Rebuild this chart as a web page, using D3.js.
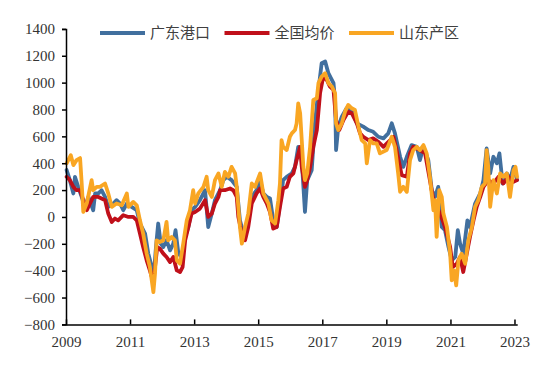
<!DOCTYPE html>
<html>
<head>
<meta charset="utf-8">
<script src="https://cdn.jsdelivr.net/npm/d3@7"></script>
<style>
  html, body { margin: 0; padding: 0; background: #fff; }
  svg { display: block; }
</style>
</head>
<body>
<svg id="chart" width="550" height="366"></svg>
<script>
// ---- Data (decimal years, values) ----
const seriesNames = ["广东港口", "全国均价", "山东产区"];
const seriesColors = ["#416f9e", "#c0101a", "#f9a623"];

const gdDates = [2009.02,2009.12,2009.23,2009.28,2009.38,2009.49,2009.59,2009.70,2009.85,2009.91,2010.01,2010.11,2010.22,2010.32,2010.48,2010.58,2010.69,2010.79,2010.90,2011.05,2011.21,2011.31,2011.47,2011.57,2011.68,2011.73,2011.81,2011.88,2011.96,2012.04,2012.14,2012.25,2012.35,2012.42,2012.51,2012.61,2012.72,2012.82,2012.92,2013.03,2013.18,2013.34,2013.44,2013.55,2013.65,2013.81,2013.91,2014.02,2014.17,2014.33,2014.43,2014.54,2014.64,2014.80,2014.95,2015.06,2015.16,2015.27,2015.37,2015.47,2015.58,2015.68,2015.78,2015.89,2016.05,2016.15,2016.25,2016.36,2016.46,2016.53,2016.67,2016.77,2016.88,2016.98,2017.09,2017.19,2017.35,2017.40,2017.43,2017.50,2017.61,2017.76,2017.92,2018.08,2018.28,2018.44,2018.59,2018.75,2018.91,2019.06,2019.17,2019.27,2019.43,2019.53,2019.64,2019.79,2019.95,2020.05,2020.16,2020.31,2020.42,2020.52,2020.62,2020.73,2020.83,2020.94,2021.04,2021.15,2021.23,2021.30,2021.40,2021.53,2021.61,2021.77,2021.93,2022.03,2022.13,2022.24,2022.34,2022.45,2022.53,2022.63,2022.76,2022.86,2022.97,2023.03,2023.08];
const gdValues = [349,274,175,299,224,149,75,149,50,175,175,199,149,75,100,125,100,50,100,75,50,-49,-124,-273,-373,-472,-224,-49,-199,-224,-174,-249,-199,-99,-273,-298,-149,-75,50,75,125,199,-75,25,125,199,274,299,274,224,-25,-124,-75,149,199,274,175,149,137,-25,-75,100,274,299,324,373,522,423,37,274,348,697,946,1145,1157,1070,996,871,498,672,746,809,796,697,672,647,634,597,585,622,697,622,448,373,448,535,522,423,522,423,199,149,224,-75,-99,-224,-323,-298,-99,-199,-273,-25,-75,100,175,274,510,324,448,399,473,249,324,274,373,324,274];

const qgDates = [2009.02,2009.12,2009.23,2009.33,2009.44,2009.54,2009.65,2009.75,2009.85,2010.01,2010.11,2010.22,2010.32,2010.43,2010.53,2010.63,2010.79,2010.95,2011.10,2011.21,2011.31,2011.41,2011.52,2011.62,2011.71,2011.78,2011.85,2011.93,2012.04,2012.14,2012.25,2012.35,2012.46,2012.56,2012.64,2012.72,2012.82,2012.92,2013.03,2013.18,2013.34,2013.44,2013.55,2013.65,2013.76,2013.81,2013.96,2014.12,2014.22,2014.33,2014.38,2014.49,2014.59,2014.69,2014.80,2014.95,2015.06,2015.16,2015.27,2015.37,2015.47,2015.58,2015.68,2015.78,2015.89,2015.99,2016.10,2016.20,2016.31,2016.36,2016.46,2016.53,2016.62,2016.72,2016.83,2016.93,2017.03,2017.14,2017.24,2017.35,2017.43,2017.53,2017.66,2017.81,2017.92,2018.08,2018.18,2018.28,2018.44,2018.59,2018.75,2018.91,2019.12,2019.22,2019.32,2019.48,2019.64,2019.74,2019.84,2020.05,2020.21,2020.36,2020.47,2020.57,2020.68,2020.83,2020.99,2021.07,2021.20,2021.30,2021.40,2021.51,2021.61,2021.72,2021.82,2021.93,2022.03,2022.18,2022.34,2022.50,2022.65,2022.81,2022.97,2023.08];
const qgValues = [299,274,224,199,199,125,50,100,149,149,137,125,25,-37,-12,-25,13,0,0,-25,-124,-224,-323,-398,-472,-373,-224,-236,-273,-298,-336,-298,-398,-410,-373,-174,-75,25,37,62,125,0,25,100,149,199,199,212,199,149,0,-124,-174,-75,100,175,212,149,100,37,-87,-75,75,212,224,299,324,423,522,373,224,274,373,522,647,921,1045,1020,970,946,722,647,722,784,772,697,622,597,572,585,560,522,572,597,498,311,299,473,522,498,473,274,125,75,25,-75,-224,-373,-348,-298,-410,-273,-149,-25,75,149,224,274,249,299,249,299,261,274];

const sdDates = [2009.02,2009.15,2009.23,2009.33,2009.44,2009.49,2009.54,2009.65,2009.80,2009.85,2009.96,2010.06,2010.22,2010.32,2010.43,2010.58,2010.74,2010.90,2010.95,2011.10,2011.21,2011.31,2011.41,2011.52,2011.62,2011.73,2011.78,2011.83,2011.93,2012.04,2012.14,2012.19,2012.30,2012.40,2012.46,2012.56,2012.66,2012.77,2012.87,2012.97,2013.03,2013.13,2013.29,2013.39,2013.44,2013.55,2013.65,2013.76,2013.86,2013.96,2014.07,2014.17,2014.28,2014.33,2014.43,2014.49,2014.59,2014.69,2014.80,2014.90,2015.06,2015.16,2015.32,2015.42,2015.53,2015.63,2015.68,2015.73,2015.78,2015.89,2015.99,2016.05,2016.15,2016.20,2016.25,2016.31,2016.36,2016.41,2016.46,2016.53,2016.62,2016.72,2016.83,2016.88,2016.98,2017.09,2017.19,2017.30,2017.40,2017.43,2017.50,2017.61,2017.71,2017.81,2017.92,2018.02,2018.13,2018.23,2018.34,2018.39,2018.49,2018.59,2018.70,2018.80,2019.01,2019.17,2019.27,2019.37,2019.43,2019.53,2019.64,2019.74,2019.84,2019.95,2020.05,2020.16,2020.26,2020.36,2020.47,2020.52,2020.57,2020.65,2020.73,2020.78,2020.89,2020.99,2021.04,2021.11,2021.18,2021.25,2021.35,2021.46,2021.56,2021.67,2021.77,2021.87,2021.98,2022.08,2022.13,2022.18,2022.24,2022.34,2022.45,2022.55,2022.65,2022.76,2022.86,2022.97,2023.03,2023.08];
const sdValues = [399,460,386,423,438,251,37,102,274,199,224,224,249,175,75,100,87,175,75,112,87,-25,-124,-273,-373,-560,-422,-174,-187,-174,-37,-174,-149,-174,-323,-348,-199,-25,50,199,100,175,224,299,199,149,274,324,224,336,299,373,324,224,-75,-199,-75,25,249,224,324,175,100,-25,-49,125,249,572,522,498,597,622,647,697,846,772,572,373,274,324,522,871,884,996,1045,1070,996,970,921,697,647,697,784,834,809,796,672,572,548,399,572,548,548,473,498,597,522,324,187,224,187,423,498,522,498,535,473,299,50,125,-149,199,149,25,-75,-273,-472,-398,-510,-323,-273,-348,-174,-75,75,125,224,249,498,373,75,274,175,324,299,324,149,348,373,299];

const yTicks = [-800,-600,-400,-200,0,200,400,600,800,1000,1200,1400];
const xTickYears = [2009,2011,2013,2015,2017,2019,2021,2023];

// ---- helpers ----
function toDate(dy) {
  const y = Math.floor(dy);
  const start = new Date(y, 0, 1), end = new Date(y + 1, 0, 1);
  return new Date(start.getTime() + (dy - y) * (end - start));
}
const allSeries = [
  { name: seriesNames[0], color: seriesColors[0], dates: gdDates, values: gdValues },
  { name: seriesNames[1], color: seriesColors[1], dates: qgDates, values: qgValues },
  { name: seriesNames[2], color: seriesColors[2], dates: sdDates, values: sdValues }
];

const svg = d3.select("#chart");
const x = d3.scaleTime().domain([new Date(2009,0,1), new Date(2023,1,1)]).range([66, 517.2]);
const y = d3.scaleLinear().domain([-800, 1400]).range([324.4, 28.9]);

const numFont = "'Liberation Serif','Times New Roman',serif";

// lines
const line = d3.line().x(d => x(d[0])).y(d => y(d[1]));
allSeries.forEach(s => {
  const pts = s.dates.map((d, i) => [toDate(d), s.values[i]]);
  svg.append("path")
    .datum(pts)
    .attr("d", line)
    .attr("fill", "none")
    .attr("stroke", s.color)
    .attr("stroke-width", 3.8)
    .attr("stroke-linejoin", "round")
    .attr("stroke-linecap", "round");
});

// y axis
const yAxis = svg.append("g")
  .attr("transform", "translate(66,0)")
  .call(d3.axisLeft(y).tickValues(yTicks).tickSize(4).tickPadding(7).tickFormat(d3.format("d")));
yAxis.select(".domain").attr("stroke", "#000").attr("stroke-width", 1.5);
yAxis.selectAll(".tick line").attr("stroke", "#000").attr("stroke-width", 1.5);
yAxis.selectAll("text").attr("font-family", numFont).attr("font-size", 15).attr("fill", "#333");

// x axis
const xAxis = svg.append("g")
  .attr("transform", "translate(0,324.4)")
  .call(d3.axisBottom(x).tickValues(xTickYears.map(yr => new Date(yr,0,1)))
    .tickSizeInner(-5).tickSizeOuter(0).tickPadding(12).tickFormat(d3.timeFormat("%Y")));
xAxis.select(".domain").attr("stroke", "#000").attr("stroke-width", 1.5);
xAxis.selectAll(".tick line").attr("stroke", "#000").attr("stroke-width", 1.5);
xAxis.selectAll("text").attr("font-family", numFont).attr("font-size", 15).attr("fill", "#333");

// legend
const legendX = [100, 224.5, 349];
const legend = svg.append("g");
allSeries.forEach((s, i) => {
  const g = legend.append("g").attr("transform", `translate(${legendX[i]},33)`);
  g.append("line").attr("x1", 0).attr("x2", 45).attr("y1", 0).attr("y2", 0)
    .attr("stroke", s.color).attr("stroke-width", 4);
  g.append("text").attr("x", 50).attr("y", 0).attr("dy", "0.35em")
    .attr("font-family", "'Noto Sans CJK SC',sans-serif").attr("font-size", 15)
    .attr("fill", "#404040").text(s.name);
});
</script>
</body>
</html>
